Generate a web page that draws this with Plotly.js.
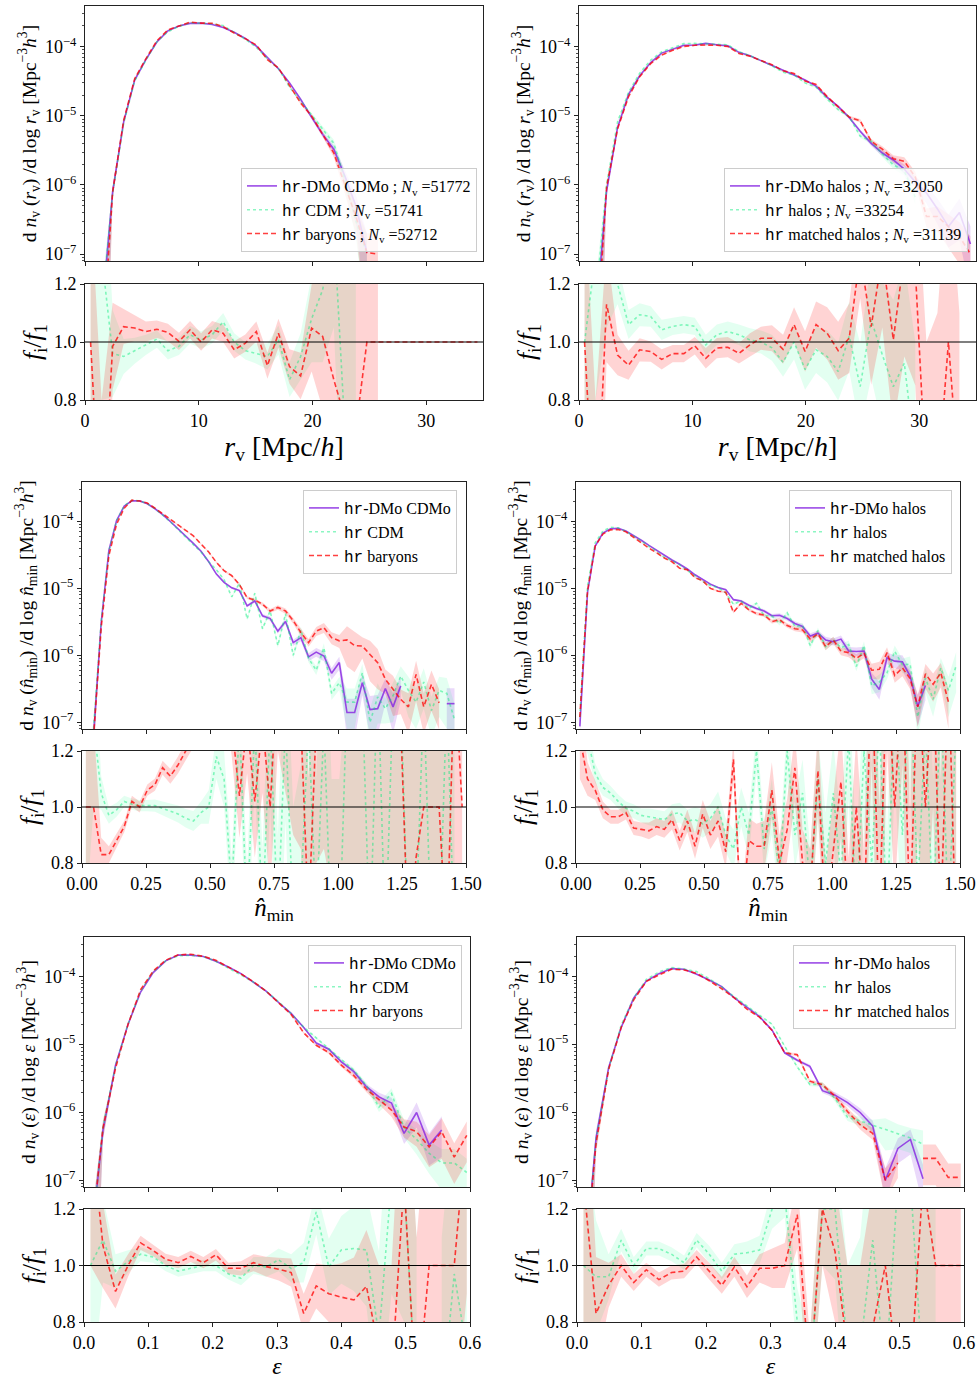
<!DOCTYPE html>
<html><head><meta charset="utf-8">
<script src="https://cdn.plot.ly/plotly-3.0.1.min.js"></script>
<style>body{margin:0;background:#fff}#chart{width:980px;height:1380px}</style>
</head><body><div id="chart"></div>
<script>
// ---------------- DATA ----------------
const X_RV = [0.49,1.46,2.43,3.40,4.37,5.35,6.32,7.29,8.26,9.24,10.21,11.18,12.15,13.12,14.10,15.07,16.04,17.01,17.99,18.96,19.93,20.90,21.88,22.85,23.82,24.79,25.76,26.74,27.71,28.68,29.65,30.63,31.60,32.57,33.54,34.51];
const X_NMIN = [0.015,0.045,0.075,0.105,0.135,0.165,0.195,0.225,0.255,0.285,0.315,0.345,0.375,0.405,0.435,0.465,0.495,0.525,0.555,0.585,0.615,0.645,0.675,0.705,0.735,0.765,0.795,0.825,0.855,0.885,0.915,0.945,0.975,1.005,1.035,1.065,1.095,1.125,1.155,1.185,1.215,1.245,1.275,1.305,1.335,1.365,1.395,1.425,1.455,1.485];
const X_EPS = [0.0100,0.0295,0.0490,0.0685,0.0880,0.1075,0.1270,0.1465,0.1660,0.1855,0.2050,0.2245,0.2440,0.2635,0.2830,0.3025,0.3220,0.3415,0.3610,0.3805,0.4000,0.4195,0.4390,0.4585,0.4780,0.4975,0.5170,0.5365,0.5560,0.5755,0.5950];

// Panel 1: r_v, hr-DMo CDMo / hr CDM / hr baryons
const P1_DMO = [null,1.2e-8,8.0e-7,8.2e-6,3.3e-5,6.5e-5,1.17e-4,1.7e-4,2.0e-4,2.18e-4,2.2e-4,2.1e-4,1.9e-4,1.62e-4,1.32e-4,1.02e-4,7.1e-5,4.8e-5,3.0e-5,1.74e-5,9.5e-6,5.4e-6,3.3e-6,1.35e-6,5.0e-7,1.05e-7,null,null,null,null,null,null,null,null,null,null];
const P1_CDM = [null,1.5e-8,7.7e-7,7.8e-6,3.2e-5,6.4e-5,1.18e-4,1.65e-4,1.97e-4,2.23e-4,2.21e-4,2.15e-4,2.03e-4,1.62e-4,1.28e-4,9.8e-5,6.7e-5,4.83e-5,2.6e-5,1.65e-5,1.03e-5,6.4e-6,4.0e-6,1.2e-6,3.0e-7,1.0e-7,null,null,null,null,null,null,null,null,null,null];
const P1_BAR = [null,3e-9,7.9e-7,8.6e-6,3.45e-5,6.7e-5,1.22e-4,1.76e-4,2.0e-4,2.27e-4,2.2e-4,2.19e-4,1.96e-4,1.58e-4,1.31e-4,1.06e-4,6.5e-5,4.95e-5,2.75e-5,1.54e-5,9.95e-6,5.5e-6,2.9e-6,1.0e-6,3.5e-7,1.05e-7,1.0e-7,null,null,null,null,null,null,null,null,null];
const R1_CDM = [1.3,1.3,0.96,0.95,0.97,0.99,1.01,0.97,0.985,1.025,1.007,1.025,1.07,1.0,0.97,0.96,0.95,1.007,0.87,0.95,1.08,1.18,1.4,0.7,0.5,null,null,null,null,null,null,null,null,null,null,null];
const R1_BAR = [1.0,0.3,0.985,1.053,1.048,1.036,1.044,1.033,1.002,1.042,1.0,1.042,1.03,0.973,0.996,1.036,0.918,1.03,0.915,0.883,1.048,1.019,0.87,0.74,0.7,1.0,1.0,1.0,1.0,1.0,1.0,1.0,1.0,1.0,1.0,1.0];
const EM1 = [1,1,0.2,0.06,0.03,0.02,0.015,0.012,0.012,0.012,0.012,0.012,0.012,0.013,0.015,0.017,0.02,0.025,0.03,0.04,0.06,0.09,0.13,0.25,0.45,0.9,1,1,1,1,1,1,1,1,1,1];
const ER1 = [0.5,0.5,0.15,0.06,0.045,0.035,0.03,0.03,0.03,0.03,0.03,0.03,0.03,0.03,0.03,0.035,0.045,0.05,0.06,0.08,0.15,0.25,0.35,0.5,0.8,1,1,0,0,0,0,0,0,0,0,0];

// Panel 2: r_v, hr-DMo halos / hr halos / hr matched halos
const P2_DMO = [null,1.0e-8,8.1e-7,6.8e-6,2.05e-5,3.8e-5,5.9e-5,8.1e-5,9.3e-5,1.05e-4,1.06e-4,1.12e-4,1.07e-4,1.03e-4,8.3e-5,7.4e-5,6.3e-5,5.4e-5,4.6e-5,3.9e-5,3.3e-5,2.7e-5,1.85e-5,1.37e-5,9.5e-6,6.0e-6,4.0e-6,2.9e-6,2.3e-6,1.7e-6,1.1e-6,7.7e-7,4.5e-7,2.5e-7,4.0e-7,1.4e-7];
const P2_HAL = [null,2e-8,1.0e-6,8.2e-6,2.2e-5,4.15e-5,6.4e-5,8.45e-5,9.8e-5,1.11e-4,1.12e-4,1.11e-4,1.1e-4,1.07e-4,8.5e-5,7.45e-5,6.3e-5,5.3e-5,4.3e-5,3.9e-5,3.0e-5,2.6e-5,1.75e-5,1.23e-5,9.7e-6,5.1e-6,4.3e-6,2.8e-6,1.95e-6,1.6e-6,6.6e-7,null,null,null,null,null];
const P2_MAT = [null,3e-9,9.2e-7,6.5e-6,1.9e-5,3.7e-5,5.7e-5,7.6e-5,8.9e-5,1.01e-4,1.05e-4,1.06e-4,1.05e-4,1.01e-4,8.0e-5,7.3e-5,6.4e-5,5.5e-5,4.5e-5,4.1e-5,3.2e-5,2.85e-5,1.9e-5,1.33e-5,9.6e-6,8.5e-6,4.3e-6,3.3e-6,2.4e-6,2.2e-6,1.3e-6,3.5e-7,3.5e-7,2.5e-7,1.8e-7,1.0e-7];
const R2_HAL = [1.0,1.3,1.25,1.2,1.06,1.094,1.088,1.042,1.054,1.06,1.054,0.99,1.025,1.036,1.025,1.007,1.0,0.98,0.93,1.0,0.905,0.973,0.95,0.898,1.02,0.846,1.077,0.956,0.846,0.927,0.6,null,null,null,null,null];
const R2_MAT = [1.0,0.3,1.13,0.955,0.92,0.973,0.967,0.94,0.96,0.96,0.987,0.944,0.979,0.982,0.961,0.99,1.013,1.013,0.975,1.06,0.967,1.06,1.03,0.97,1.013,1.3,1.053,1.3,1.008,1.3,1.25,0.5,0.5,1.0,0.5,null];
const EM2 = [1,1,0.15,0.05,0.03,0.02,0.015,0.013,0.012,0.012,0.012,0.012,0.012,0.013,0.014,0.015,0.016,0.018,0.02,0.022,0.025,0.028,0.035,0.04,0.05,0.06,0.08,0.1,0.12,0.15,0.2,0.3,0.4,0.5,0.6,0.8];
const ER2 = [0.5,0.5,0.2,0.07,0.05,0.04,0.035,0.035,0.03,0.03,0.03,0.035,0.035,0.035,0.035,0.04,0.04,0.045,0.05,0.06,0.07,0.08,0.09,0.1,0.12,0.15,0.2,0.25,0.3,0.35,0.4,0.5,0.6,0.6,0.6,0.6];

// Panel 3: n_min, CDMo / CDM / baryons
const P3_DMO = [null,6.2e-8,3.1e-6,3.7e-5,1.03e-4,1.7e-4,2.04e-4,2.03e-4,1.84e-4,1.55e-4,1.27e-4,1.0e-4,7.8e-5,6.2e-5,4.7e-5,3.6e-5,2.5e-5,1.64e-5,1.23e-5,1.02e-5,9.3e-6,5.5e-6,6.5e-6,3.9e-6,3.55e-6,2.3e-6,3.2e-6,1.55e-6,1.84e-6,9.5e-7,1.12e-6,9.8e-7,5.4e-7,7.8e-7,1.4e-7,1.4e-7,3.9e-7,1.55e-7,1.6e-7,3.2e-7,1.7e-7,3.5e-7,null,null,null,null,null,1.9e-7,1.9e-7,null];
const P3_CDM = [null,8e-8,3.25e-6,3.6e-5,1.02e-4,1.73e-4,2.06e-4,2.04e-4,1.85e-4,1.56e-4,1.26e-4,9.9e-5,7.6e-5,5.95e-5,4.5e-5,3.5e-5,2.5e-5,1.9e-5,1.35e-5,7.5e-6,1.2e-5,3.5e-6,8.5e-6,2.5e-6,4.6e-6,1.4e-6,4.2e-6,1.0e-6,2.4e-6,9e-7,6e-7,1.3e-6,2.7e-7,3.9e-7,2.0e-7,2.0e-7,5.5e-7,1.0e-7,2.4e-7,1.6e-7,2.5e-7,4.9e-7,3.0e-7,2.0e-7,4.0e-7,1.5e-7,3.0e-7,2.7e-7,1.1e-7,null];
const P3_BAR = [null,6e-8,2.6e-6,3.1e-5,9.1e-5,1.58e-4,2.08e-4,2.02e-4,1.89e-4,1.58e-4,1.3e-4,1.07e-4,8.8e-5,7.3e-5,6.1e-5,4.6e-5,3.5e-5,2.45e-5,1.84e-5,1.55e-5,1.14e-5,7.3e-6,6.7e-6,5.8e-6,4.6e-6,5.2e-6,4.6e-6,3.3e-6,2.2e-6,1.55e-6,2.3e-6,2.6e-6,1.84e-6,1.65e-6,1.7e-6,1.4e-6,1.38e-6,1.03e-6,7.8e-7,4.4e-7,3.1e-7,2.2e-7,1.7e-7,5.2e-7,1.7e-7,3.7e-7,1.95e-7,null,null,null];
const R3_CDM = [1.2,1.3,1.05,0.97,0.99,1.02,1.01,1.005,1.005,1.005,0.995,0.985,0.975,0.96,0.95,0.98,1.0,1.18,1.1,0.7,1.3,0.6,1.3,0.6,1.3,0.6,1.3,0.6,0.7,1.3,0.6,1.3,0.5,0.5,1.4,1.4,1.4,0.5,1.5,0.5,1.4,1.4,0.5,0.6,1.4,0.5,0.5,1.4,0.5,null];
const R3_BAR = [1.0,1.0,0.83,0.83,0.88,0.93,1.02,1.0,1.06,1.08,1.14,1.11,1.15,1.2,1.25,1.3,1.5,1.5,1.5,1.3,1.04,1.3,1.02,1.3,1.0,1.5,1.4,1.3,1.3,0.6,1.3,1.4,1.3,1.3,1.4,1.5,1.4,1.5,1.3,1.4,1.5,1.3,0.5,0.82,1.0,1.0,1.0,0.5,1.5,1.0];
const EM3 = [1,0.5,0.05,0.015,0.01,0.01,0.01,0.01,0.01,0.012,0.013,0.015,0.016,0.018,0.02,0.022,0.025,0.03,0.035,0.04,0.045,0.05,0.06,0.06,0.07,0.08,0.09,0.1,0.12,0.13,0.15,0.17,0.2,0.22,0.6,0.6,0.35,0.6,0.6,0.4,0.6,0.4,0.6,0.6,0.6,0.6,0.6,0.7,0.7,0.7];
const ER3 = [0.6,0.3,0.06,0.03,0.025,0.02,0.02,0.02,0.02,0.022,0.025,0.027,0.03,0.033,0.036,0.04,0.06,0.08,0.1,0.12,0.15,0.18,0.2,0.25,0.3,0.3,0.35,0.4,0.45,0.5,0.5,0.55,0.6,0.6,0.7,0.7,0.7,0.8,0.8,0.8,0.9,0.9,0.9,0.9,0.9,0.9,0.9,0.9,0.9,0.9];

// Panel 4: n_min, halos
const P4_DMO = [8.7e-8,8.7e-6,4.3e-5,6.7e-5,7.8e-5,7.9e-5,7.2e-5,6.2e-5,5.25e-5,4.4e-5,3.7e-5,3.1e-5,2.66e-5,2.3e-5,1.95e-5,1.6e-5,1.35e-5,1.16e-5,1.03e-5,9.6e-6,6.8e-6,6.5e-6,5.6e-6,5.0e-6,4.6e-6,3.9e-6,3.97e-6,3.55e-6,3.0e-6,2.7e-6,1.95e-6,2.14e-6,1.7e-6,1.6e-6,1.75e-6,1.16e-6,1.14e-6,1.16e-6,4.4e-7,3.1e-7,9.2e-7,8.2e-7,8.0e-7,4.9e-7,1.74e-7,3.55e-7,null,null,null,null];
const P4_HAL = [1.2e-7,1.09e-5,4.8e-5,7.2e-5,8.2e-5,8.05e-5,7.15e-5,6.1e-5,5.1e-5,4.25e-5,3.55e-5,2.95e-5,2.6e-5,2.25e-5,1.85e-5,1.53e-5,1.27e-5,1.11e-5,1.03e-5,8.6e-6,5.8e-6,6.5e-6,5.0e-6,6.0e-6,3.9e-6,3.9e-6,3.0e-6,4.3e-6,2.7e-6,2.8e-6,1.4e-6,2.35e-6,1.35e-6,1.7e-6,1.3e-6,1.45e-6,6.8e-7,1.4e-6,3.5e-7,4.0e-7,5.5e-7,1.15e-6,7.2e-7,7.4e-7,1.2e-7,4.6e-7,2.2e-7,6.5e-7,3e-7,7e-7];
const P4_MAT = [1.2e-7,9.2e-6,4.3e-5,6.5e-5,7.5e-5,7.6e-5,7.0e-5,5.75e-5,4.85e-5,4.0e-5,3.4e-5,2.85e-5,2.5e-5,2.0e-5,1.9e-5,1.45e-5,1.3e-5,1.0e-5,9.1e-6,8.8e-6,4.4e-6,6.0e-6,4.8e-6,4.2e-6,4.0e-6,3.2e-6,3.4e-6,2.8e-6,2.5e-6,2.4e-6,1.75e-6,2.1e-6,1.35e-6,1.7e-6,1.15e-6,1.1e-6,9.0e-7,1.08e-6,6.0e-7,6.2e-7,1.1e-6,5.0e-7,6.5e-7,4.5e-7,1.7e-7,5.3e-7,3.7e-7,5.5e-7,2.0e-7,null];
const R4_HAL = [1.4,1.25,1.12,1.07,1.05,1.02,0.995,0.985,0.97,0.965,0.96,0.955,0.975,0.98,0.95,0.955,0.94,0.96,1.0,0.9,0.85,1.0,0.9,1.2,0.85,1.0,0.75,1.2,0.9,1.05,0.7,1.1,0.8,1.05,0.75,1.25,0.6,1.2,0.8,1.3,0.6,1.4,0.9,1.5,0.7,1.3,0.6,1.4,0.6,1.3];
const R4_MAT = [1.25,1.1,1.06,0.99,0.965,0.965,0.98,0.925,0.92,0.915,0.93,0.92,0.955,0.88,0.95,0.86,0.975,0.90,0.95,0.84,1.17,0.6,0.88,0.86,0.86,1.06,0.8,0.92,1.14,0.8,0.7,1.13,0.6,0.85,1.09,0.6,1.0,0.6,1.5,0.6,1.5,1.0,1.5,0.6,1.5,1.0,1.5,0.6,1.5,0.5];
const EM4 = [0.3,0.03,0.012,0.01,0.01,0.01,0.01,0.012,0.013,0.014,0.015,0.016,0.018,0.02,0.022,0.025,0.027,0.03,0.032,0.035,0.04,0.045,0.05,0.055,0.06,0.065,0.07,0.075,0.08,0.085,0.1,0.1,0.12,0.12,0.13,0.15,0.15,0.16,0.25,0.3,0.2,0.22,0.25,0.3,0.5,0.4,0.45,0.4,0.6,0.6];
const ER4 = [0.15,0.06,0.035,0.03,0.025,0.025,0.025,0.025,0.025,0.03,0.03,0.03,0.035,0.035,0.04,0.045,0.05,0.05,0.055,0.06,0.07,0.07,0.08,0.08,0.09,0.1,0.1,0.11,0.12,0.12,0.15,0.15,0.18,0.18,0.2,0.22,0.25,0.25,0.35,0.4,0.3,0.3,0.35,0.4,0.6,0.5,0.5,0.5,0.7,0.7];

// Panel 5: epsilon, CDMo / CDM / baryons
const P5_DMO = [1e-8,5.5e-7,5.0e-6,2.0e-5,6.0e-5,1.16e-4,1.73e-4,2.1e-4,2.1e-4,2.0e-4,1.7e-4,1.4e-4,1.12e-4,8.4e-5,6.2e-5,4.2e-5,2.9e-5,1.8e-5,1.06e-5,8.6e-6,5.6e-6,4.0e-6,2.4e-6,1.7e-6,1.38e-6,4.9e-7,1.0e-6,3.3e-7,5.5e-7,null,null];
const P5_CDM = [1e-8,6e-7,4.9e-6,2.03e-5,6.2e-5,1.19e-4,1.73e-4,2.06e-4,2.08e-4,2.0e-4,1.7e-4,1.36e-4,1.07e-4,8.4e-5,6.2e-5,4.3e-5,2.87e-5,1.82e-5,1.26e-5,8.6e-6,5.9e-6,4.2e-6,2.5e-6,1.2e-6,1.9e-6,6e-7,4e-7,2.5e-7,1.8e-7,1.8e-7,1.3e-7];
const P5_BAR = [1e-8,5.9e-7,4.5e-6,2.0e-5,6.5e-5,1.22e-4,1.77e-4,2.12e-4,2.17e-4,2.02e-4,1.76e-4,1.39e-4,1.11e-4,8.5e-5,6.2e-5,4.15e-5,2.8e-5,1.5e-5,9.8e-6,7.7e-6,5.0e-6,3.5e-6,2.2e-6,1.55e-6,1.08e-6,6.1e-7,5.2e-7,3.1e-7,5.2e-7,2.2e-7,4.6e-7];
const R5_CDM = [1.0,1.09,0.98,1.014,1.04,1.03,1.0,0.98,0.99,1.0,1.0,0.97,0.955,1.0,0.995,1.02,0.99,1.01,1.19,0.995,1.055,1.06,1.055,0.75,1.3,1.3,0.5,null,0.5,0.97,0.7];
const R5_BAR = [1.5,1.07,0.908,1.0,1.08,1.053,1.022,1.01,1.032,1.01,1.038,0.99,0.99,1.01,0.996,0.987,0.975,0.83,0.928,0.90,0.888,0.878,0.926,0.7,0.6,1.3,0.5,1.0,1.0,1.0,1.5];
const EM5 = [1,0.3,0.05,0.02,0.012,0.01,0.01,0.01,0.01,0.01,0.01,0.01,0.012,0.014,0.016,0.02,0.025,0.03,0.04,0.05,0.06,0.08,0.1,0.15,0.2,0.3,0.4,0.5,0.6,0.6,0.6];
const ER5 = [0.5,0.15,0.06,0.04,0.025,0.02,0.02,0.02,0.02,0.02,0.02,0.02,0.025,0.03,0.035,0.04,0.05,0.07,0.08,0.1,0.12,0.15,0.2,0.3,0.4,0.5,0.6,0.6,0.6,0.6,0.6];

// Panel 6: epsilon, halos
const P6_DMO = [3e-9,4.2e-7,4.6e-6,1.8e-5,4.9e-5,8.7e-5,1.12e-4,1.33e-4,1.3e-4,1.1e-4,9.0e-5,7.2e-5,4.9e-5,3.6e-5,2.6e-5,1.64e-5,7.6e-6,5.9e-6,4.8e-6,2.1e-6,1.8e-6,1.4e-6,1.0e-6,6.3e-7,1.0e-7,2.95e-7,4.0e-7,1.05e-7,null,null,null];
const P6_HAL = [3e-9,4.0e-7,4.4e-6,1.95e-5,4.9e-5,9.2e-5,1.18e-4,1.38e-4,1.31e-4,1.2e-4,9.4e-5,7.1e-5,5.1e-5,3.75e-5,2.75e-5,2.0e-5,9.5e-6,4.7e-6,2.6e-6,2.6e-6,1.6e-6,8.5e-7,7.5e-7,6.5e-7,5.5e-7,4.8e-7,4.2e-7,3.4e-7,null,null,null];
const P6_MAT = [3e-9,3.5e-7,4.3e-6,1.8e-5,4.6e-5,8.6e-5,1.07e-4,1.3e-4,1.27e-4,1.13e-4,8.8e-5,6.7e-5,4.9e-5,3.35e-5,2.55e-5,1.62e-5,7.6e-6,7.1e-6,2.9e-6,2.57e-6,1.74e-6,1.03e-6,6.6e-7,4.9e-7,1.0e-7,1.8e-7,null,2.1e-7,2.1e-7,1.1e-7,1.1e-7];
const R6_HAL = [1.0,0.96,0.96,1.09,1.0,1.06,1.06,1.04,1.01,1.09,1.04,0.98,1.04,1.045,1.055,1.2,1.25,0.8,0.6,1.2,1.2,0.7,0.7,1.09,0.6,1.3,1.3,0.6,0.6,null,null];
const R6_MAT = [1.3,0.83,0.93,1.0,0.94,0.985,0.95,0.975,0.98,1.03,0.98,0.93,0.995,0.925,0.99,0.99,1.0,1.18,0.6,1.2,1.05,0.7,0.6,0.78,1.0,0.6,0.6,1.3,1.0,1.0,1.0];
const EM6 = [1,0.3,0.06,0.025,0.015,0.012,0.012,0.012,0.012,0.012,0.013,0.014,0.016,0.02,0.025,0.03,0.04,0.05,0.06,0.08,0.1,0.12,0.15,0.2,0.5,0.4,0.4,0.6,0.6,0.6,0.6];
const ER6 = [0.5,0.2,0.08,0.04,0.03,0.025,0.025,0.025,0.025,0.025,0.03,0.03,0.035,0.04,0.05,0.07,0.08,0.12,0.15,0.2,0.25,0.3,0.4,0.5,0.6,0.7,0.7,0.7,0.7,0.7,0.7];

// Labels
const MONO = "Liberation Mono, DejaVu Sans Mono, monospace";
const HR = '<span style="font-family:' + MONO + '">hr</span>';
const NV = '<i>N</i><sub>v</sub>';
const LEG1 = [HR+'-DMo CDMo ; '+NV+' =51772', HR+' CDM ; '+NV+' =51741', HR+' baryons ; '+NV+' =52712'];
const LEG2 = [HR+'-DMo halos ; '+NV+' =32050', HR+' halos ; '+NV+' =33254', HR+' matched halos ; '+NV+' =31139'];
const LEG3 = [HR+'-DMo CDMo', HR+' CDM', HR+' baryons'];
const LEG4 = [HR+'-DMo halos', HR+' halos', HR+' matched halos'];
const NH = '<i>n\u0302</i><sub>min</sub>';
const UNIT = ' [Mpc<sup>\u22123</sup><i>h</i><sup>3</sup>]';
const YT_RV = 'd <i>n</i><sub>v</sub> (<i>r</i><sub>v</sub>) /d log <i>r</i><sub>v</sub>' + UNIT;
const YT_NM = 'd <i>n</i><sub>v</sub> (' + NH + ') /d log ' + NH + UNIT;
const YT_EP = 'd <i>n</i><sub>v</sub> (<i>\u03b5</i>) /d log <i>\u03b5</i>' + UNIT;
const XT_RV = '<i>r</i><sub>v</sub> [Mpc/<i>h</i>]';
const XT_NM = NH;
const XT_EP = '<i>\u03b5</i>';
const RT = '<i>f</i><sub>i</sub>/<i>f</i><sub>1</sub>';

// ---------------- DRAWING ----------------
const W = 980, H = 1380;
const FONT = "Liberation Serif, DejaVu Serif, serif";
const C_LINE = ['rgba(138,43,226,0.85)', 'rgba(0,235,120,0.45)', 'rgba(255,0,0,0.75)'];
const C_BAND = ['rgba(138,43,226,0.18)', 'rgba(0,255,127,0.11)', 'rgba(255,0,0,0.17)'];
const DASH = ['solid', 'dot', '5px,3px'];

const PANELS = [
  {x:X_RV, main:[P1_DMO,P1_CDM,P1_BAR], rat:[R1_CDM,R1_BAR], em:EM1, er:ER1, leg:LEG1,
   box:[85,483,6,261,284,400], xr:[0,35], xt:[0,10,20,30], xf:'', xtitle:XT_RV, xts:28, ytitle:YT_RV,
   lg:{x:477, y:252, xa:'right', ya:'bottom'}},
  {x:X_RV, main:[P2_DMO,P2_HAL,P2_MAT], rat:[R2_HAL,R2_MAT], em:EM2, er:ER2, leg:LEG2,
   box:[579,976,6,261,284,400], xr:[0,35], xt:[0,10,20,30], xf:'', xtitle:XT_RV, xts:28, ytitle:YT_RV,
   lg:{x:968, y:252, xa:'right', ya:'bottom'}},
  {x:X_NMIN, main:[P3_DMO,P3_CDM,P3_BAR], rat:[R3_CDM,R3_BAR], em:EM3, er:ER3, leg:LEG3,
   box:[82,466,482,729,751,863], xr:[0,1.5], xt:[0,0.25,0.5,0.75,1.0,1.25,1.5], xf:'.2f', xtitle:XT_NM, xts:25, ytitle:YT_NM,
   lg:{x:457, y:490, xa:'right', ya:'top'}},
  {x:X_NMIN, main:[P4_DMO,P4_HAL,P4_MAT], rat:[R4_HAL,R4_MAT], em:EM4, er:ER4, leg:LEG4,
   box:[576,960,482,729,751,863], xr:[0,1.5], xt:[0,0.25,0.5,0.75,1.0,1.25,1.5], xf:'.2f', xtitle:XT_NM, xts:25, ytitle:YT_NM,
   lg:{x:952, y:490, xa:'right', ya:'top'}},
  {x:X_EPS, main:[P5_DMO,P5_CDM,P5_BAR], rat:[R5_CDM,R5_BAR], em:EM5, er:ER5, leg:LEG3,
   box:[84,470,937,1187,1209,1322], xr:[0,0.6], xt:[0,0.1,0.2,0.3,0.4,0.5,0.6], xf:'.1f', xtitle:XT_EP, xts:24, ytitle:YT_EP,
   lg:{x:462, y:945, xa:'right', ya:'top'}},
  {x:X_EPS, main:[P6_DMO,P6_HAL,P6_MAT], rat:[R6_HAL,R6_MAT], em:EM6, er:ER6, leg:LEG4,
   box:[577,964,937,1187,1209,1322], xr:[0,0.6], xt:[0,0.1,0.2,0.3,0.4,0.5,0.6], xf:'.1f', xtitle:XT_EP, xts:24, ytitle:YT_EP,
   lg:{x:956, y:945, xa:'right', ya:'top'}}
];

function bands(x, y, e, isLog, color, xa, ya) {
  const out = []; let seg = [];
  const flush = () => {
    if (seg.length > 0) {
      const xs = seg.map(i => x[i]);
      const up = seg.map(i => isLog ? y[i] * (1 + e[i]) : y[i] + e[i]);
      const lo = seg.map(i => isLog ? (e[i] >= 0.99 ? y[i] * 1e-3 : y[i] * (1 - e[i])) : y[i] - e[i]);
      out.push({type:'scatter', mode:'lines', x: xs.concat(xs.slice().reverse()),
        y: up.concat(lo.slice().reverse()), fill:'toself', fillcolor:color,
        line:{width:0, color:'rgba(0,0,0,0)'}, hoverinfo:'skip', showlegend:false, xaxis:xa, yaxis:ya});
    }
    seg = [];
  };
  for (let i = 0; i < x.length; i++) {
    if (y[i] == null || e[i] == null || e[i] === 0) flush(); else seg.push(i);
  }
  flush();
  return out;
}

const data = [];
const layout = {
  width:W, height:H, margin:{l:0,r:0,t:0,b:0}, paper_bgcolor:'#fff', plot_bgcolor:'#fff',
  font:{family:FONT, size:18, color:'#000'}, shapes:[], showlegend:true
};
const minorVals = [];
for (let d = -8; d <= -3; d++) for (let m = 2; m <= 9; m++) minorVals.push(m * Math.pow(10, d));

PANELS.forEach((p, i) => {
  const m = 2 * i + 1, r = 2 * i + 2;
  const xm = m === 1 ? 'x' : 'x' + m, ym = m === 1 ? 'y' : 'y' + m;
  const xr = 'x' + r, yr = 'y' + r;
  const legId = i === 0 ? 'legend' : 'legend' + (i + 1);
  const [L, R, T, B, RT0, RB] = p.box;
  for (let s = 0; s < 3; s++) data.push(...bands(p.x, p.main[s], p.em, true, C_BAND[s], xm, ym));
  for (let s = 0; s < 3; s++) data.push({type:'scatter', mode:'lines', x:p.x, y:p.main[s], name:p.leg[s],
    line:{color:C_LINE[s], width:1.6, dash:DASH[s]}, xaxis:xm, yaxis:ym, legend:legId, showlegend:true, hoverinfo:'skip'});
  for (let s = 0; s < 2; s++) data.push(...bands(p.x, p.rat[s], p.er, false, C_BAND[s + 1], xr, yr));
  for (let s = 0; s < 2; s++) data.push({type:'scatter', mode:'lines', x:p.x, y:p.rat[s],
    line:{color:C_LINE[s + 1], width:1.6, dash:DASH[s + 1]}, xaxis:xr, yaxis:yr, showlegend:false, hoverinfo:'skip'});

  const common = {showgrid:false, zeroline:false, linecolor:'#222', linewidth:1, mirror:true,
    ticks:'outside', ticklen:4, tickwidth:1, tickcolor:'#222', automargin:false, tickfont:{size:18}};
  const xdom = [L / W, R / W];
  layout['xaxis' + (m === 1 ? '' : m)] = Object.assign({}, common, {domain:xdom, anchor:ym, range:p.xr,
    tickmode:'array', tickvals:p.xt, showticklabels:false});
  layout['yaxis' + (m === 1 ? '' : m)] = Object.assign({}, common, {domain:[1 - B / H, 1 - T / H], anchor:xm,
    type:'log', range:[-7.1, -3.41], tickmode:'array', tickvals:[1e-7,1e-6,1e-5,1e-4],
    ticktext:['10<sup>\u22127</sup>','10<sup>\u22126</sup>','10<sup>\u22125</sup>','10<sup>\u22124</sup>'],
    minor:{tickmode:'array', tickvals:minorVals, ticks:'outside', ticklen:2.5, tickcolor:'#222', tickwidth:0.8},
    title:{text:p.ytitle, font:{size:19.5}, standoff:3}});
  layout['xaxis' + r] = Object.assign({}, common, {domain:xdom, anchor:yr, range:p.xr, tickmode:'array',
    tickvals:p.xt, ticktext:p.xt.map(v => p.xf === '.2f' ? v.toFixed(2) : (p.xf === '.1f' ? v.toFixed(1) : String(v))),
    title:{text:p.xtitle, font:{size:p.xts}, standoff:5}});
  layout['yaxis' + r] = Object.assign({}, common, {domain:[1 - RB / H, 1 - RT0 / H], anchor:xr, range:[0.8, 1.2],
    tickmode:'array', tickvals:[0.8,1.0,1.2], ticktext:['0.8','1.0','1.2'],
    title:{text:RT, font:{size:26}, standoff:4}});
  layout.shapes.push({type:'line', xref:xr + ' domain', x0:0, x1:1, yref:yr, y0:1, y1:1, line:{color:'#000', width:1.1}});
  layout[legId] = {x:p.lg.x / W, y:1 - p.lg.y / H, xanchor:p.lg.xa, yanchor:p.lg.ya, xref:'paper', yref:'paper',
    bgcolor:'rgba(255,255,255,0.8)', bordercolor:'#cccccc', borderwidth:1, font:{family:FONT, size:16, color:'#000'},
    tracegroupgap:0, itemwidth:30};
});

Plotly.newPlot('chart', data, layout, {staticPlot:true, displayModeBar:false});
</script>
</body></html>
